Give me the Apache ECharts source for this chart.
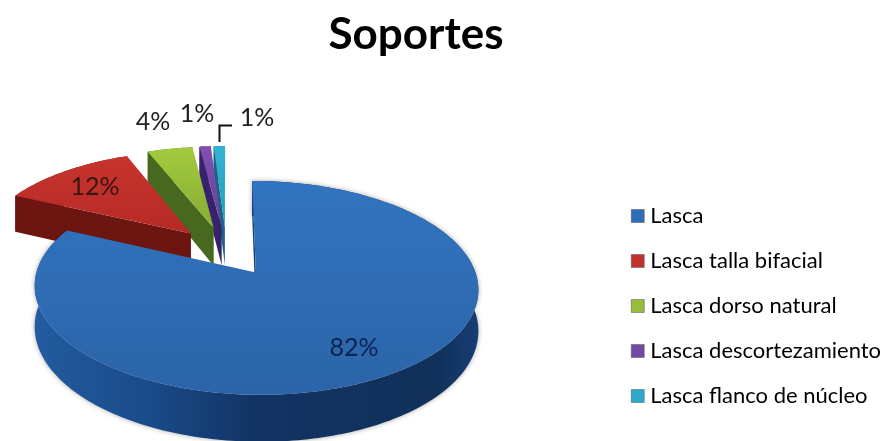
<!DOCTYPE html>
<html>
<head>
<meta charset="utf-8">
<style>
	html, body { margin: 0; padding: 0; background: #fff; }
	#chart { width: 882px; height: 441px; }
</style>
<script src="https://cdn.jsdelivr.net/npm/echarts@6/dist/echarts.min.js"></script>
</head>
<body>
<div id="chart"></div>
<script>
const categories = ["Lasca", "Lasca talla bifacial", "Lasca dorso natural", "Lasca descortezamiento", "Lasca flanco de núcleo"];
const values = [82, 12, 4, 1, 1];

// top face, wall and rim colours per slice
const topColors = [["#3274c0", "#2b64a8"], ["#c8342e", "#b52a26"], ["#a3cb3e", "#86ab34"], ["#7f50b0", "#68409a"], ["#35b4d4", "#2798b8"]];
const wallColors = ["#17407a", "#6d1511", "#47691f", "#37226c", "#1c6388"];
const legendColors = ["#2f6db5", "#c0332d", "#98bd3a", "#7449a6", "#2fa9c9"];
const labelPos = [[354, 348], [95, 187], [153, 122], [197, 114], [257, 118]];

// fake 3D: disc seen from the front with some perspective
const cx = 226.5, cy = 251, rx = 213, ry = 98.6, persp = 0.14, explode = 0.25, depth = 39;

function project(u, v, drop) {
	const w = 1 - persp * v;
	const y = cy + (ry * v) / w;
	return [cx + (rx * u) / w, y + (drop ? depth / w : 0)];
}

const total = values.reduce((a, b) => a + b, 0);

function sliceAngles(index) {
	let before = 0;
	for (let i = 0; i < index; i++) before += values[i];
	const start = (before / total) * Math.PI * 2;
	return [start, start + (values[index] / total) * Math.PI * 2];
}

function renderSlice(index, params, api) {
	const value = api.value(0);
	const [start, end] = sliceAngles(index);
	const mid = (start + end) / 2;
	const ox = Math.sin(mid) * explode;
	const oy = -Math.cos(mid) * explode;
	const steps = Math.max(4, Math.ceil((end - start) / 0.02));
	const rimTop = [];
	const rimBottom = [];
	for (let i = 0; i <= steps; i++) {
		const a = start + ((end - start) * i) / steps;
		rimTop.push(project(ox + Math.sin(a), oy - Math.cos(a), false));
		rimBottom.push(project(ox + Math.sin(a), oy - Math.cos(a), true));
	}
	const apexTop = project(ox, oy, false);
	const apexBottom = project(ox, oy, true);
	const children = [];
	// rim wall
	children.push({
		type: "polygon",
		shape: { points: rimTop.concat(rimBottom.slice().reverse()) },
		style: {
			fill: index === 0
				? new echarts.graphic.LinearGradient(0, 0, 1, 0, [
					{ offset: 0, color: "#225c9f" },
					{ offset: 0.25, color: "#1a4b8a" },
					{ offset: 0.5, color: "#123464" },
					{ offset: 0.9, color: "#11305a" },
					{ offset: 1, color: "#163d72" }
				])
				: wallColors[index],
			shadowBlur: index === 0 ? 5 : 0,
			shadowColor: "rgba(0,0,0,0.35)"
		}
	});
	// cut wall on the start side of the slice
	children.push({
		type: "polygon",
		shape: { points: [apexTop, rimTop[0], rimBottom[0], apexBottom] },
		style: { fill: wallColors[index] }
	});
	// top face
	children.push({
		type: "polygon",
		shape: { points: [apexTop].concat(rimTop) },
		style: {
			fill: new echarts.graphic.LinearGradient(0, 0, 0, 1, [
				{ offset: 0, color: topColors[index][0] },
				{ offset: 1, color: topColors[index][1] }
			])
		}
	});
	children.push({
		type: "text",
		z2: 10,
		style: {
			text: value + "%",
			x: labelPos[index][0],
			y: labelPos[index][1],
			align: "center",
			verticalAlign: "middle",
			fill: index === 0 ? "#0c2350" : index === 1 ? "#3a1512" : "#222",
			font: '25px Lato, "Open Sans", sans-serif'
		}
	});
	return { type: "group", children: children };
}

const chart = echarts.init(document.getElementById("chart"), null, { renderer: "canvas" });

// back slices first, blue one last so it sits over the red wall
const drawOrder = [4, 3, 2, 1, 0];

chart.setOption({
	animation: false,
	backgroundColor: "#fff",
	title: {
		text: "Soportes",
		left: 411,
		top: 8,
		textAlign: "center",
		textStyle: {
			color: "#000",
			fontFamily: "Lato",
			fontWeight: "bold",
			fontSize: 44
		}
	},
	legend: {
		orient: "vertical",
		left: 626,
		top: 200,
		itemWidth: 13,
		itemHeight: 13,
		itemGap: 23,
		icon: "rect",
		selectedMode: false,
		textStyle: {
			color: "#000",
			fontFamily: "Lato",
			fontSize: 22,
			padding: [0, 0, 0, 1]
		},
		data: categories.map((name, i) => ({
			name: name,
			itemStyle: { color: legendColors[i], borderColor: "#555", borderWidth: 0.5 }
		}))
	},
	graphic: [
		{
			type: "polyline",
			z: 5,
			shape: { points: [[219.5, 142], [219.5, 125.5], [232, 125.5]] },
			style: { stroke: "#111", fill: null, lineWidth: 2 }
		}
	],
	series: drawOrder.map(i => ({
		type: "custom",
		name: categories[i],
		coordinateSystem: "none",
		itemStyle: { color: legendColors[i] },
		data: [[values[i]]],
		renderItem: (params, api) => renderSlice(i, params, api)
	}))
});
</script>
</body>
</html>
